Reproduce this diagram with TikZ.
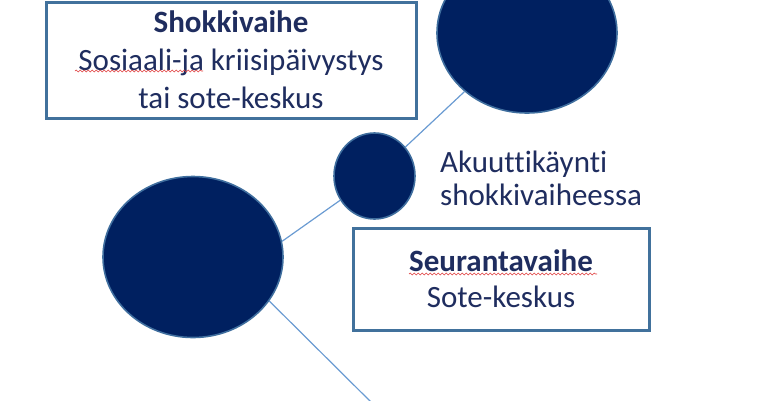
\documentclass[tikz,border=0pt]{standalone}
\usepackage{fontspec}
\setmainfont[Ligatures={NoCommon}]{Carlito}
\usetikzlibrary{shapes.geometric,decorations.pathmorphing}
\definecolor{navy}{HTML}{002060}
\definecolor{rimblue}{HTML}{3F6E9E}
\definecolor{boxblue}{HTML}{41719C}
\definecolor{txt}{HTML}{1F2D5F}
\definecolor{linkblue}{HTML}{6A9BD2}
\definecolor{squigred}{HTML}{E03C3C}
\tikzset{
  ball/.style={ellipse, fill=navy, draw=rimblue, line width=1.6pt, inner sep=0pt},
  link/.style={draw=linkblue, line width=1.2pt},
  phasebox/.style={rectangle, draw=boxblue, line width=3pt, fill=white, align=center, text=txt, inner sep=0pt},
  squig/.style={draw=squigred, line width=0.6pt, decorate, decoration={snake, amplitude=0.9pt, segment length=4pt}}
}
\begin{document}
\begin{tikzpicture}[x=1pt,y=-1pt]
\useasboundingbox (0,0) rectangle (760,400);
\clip (0,0) rectangle (760,400);
% circles
\node[ball, minimum width=180pt, minimum height=161pt] (big) at (193,257) {};
\node[ball, minimum width=180pt, minimum height=160pt] (top) at (527,33) {};
\node[ball, minimum width=81pt, minimum height=86pt] (small) at (374.5,176) {};
\coordinate (tail) at (375,406);
% connectors
\draw[link] (big.10) -- (small);
\draw[link] (top) -- (small);
\draw[link] (big.-30) -- (tail);
% boxes
\node[phasebox, minimum width=370pt, minimum height=116pt, font=\fontsize{31}{38}\selectfont] (shock) at (231,60)
  {\textbf{Shokkivaihe}\\Sosiaali-ja kriisipäivystys\\tai sote-keskus};
\node[phasebox, minimum width=296pt, minimum height=102pt, font=\fontsize{31}{36}\selectfont] (follow) at (501,279)
  {\textbf{Seurantavaihe}\\Sote-keskus};
\node[anchor=west, align=left, text=txt, inner sep=0pt, font=\fontsize{31}{33}\selectfont] (acute) at (440,178.5)
  {Akuuttikäynti\\shokkivaiheessa};
% spell-check underlines
\draw[squig] (75,71) -- (203,71);
\draw[squig] (409,274) -- (597,274);
\end{tikzpicture}
\end{document}
